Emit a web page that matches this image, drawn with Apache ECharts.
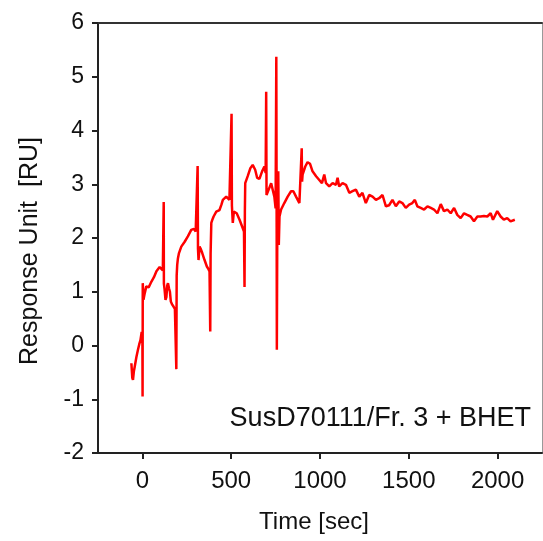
<!DOCTYPE html>
<html>
<head>
<meta charset="utf-8">
<script src="https://cdn.jsdelivr.net/npm/echarts@6/dist/echarts.min.js"></script>
<style>
html,body{margin:0;padding:0;background:#fff;}
#chart{width:543px;height:541px;}
</style>
</head>
<body>
<div id="chart"></div>
<script>
// Time [sec]
const times = [-62,-57,-53,-48,-43,-34,-25,-18,-11,-4,0,1,2,6,13,22,35,51,65,79,97,108,115,119,120,121,125,130,135,140,144,150,155,160,168,176,183,189,191,193,196,200,206,219,238,256,275,290,300,309,311,313,316,322,328,337,350,363,372,378,382,384,388,395,401,416,434,445,453,472,490,500,502,504,509,515,519,531,547,562,572,575,577,579,593,608,621,635,646,659,674,687,694,697,699,711,725,734,743,750,754,756,757,760,765,768,772,781,799,818,837,850,865,884,893,897,899,902,917,930,944,958,978,996,1011,1024,1034,1052,1071,1090,1099,1108,1127,1146,1165,1183,1202,1221,1239,1258,1277,1296,1315,1333,1352,1371,1389,1408,1427,1446,1464,1483,1502,1520,1534,1548,1567,1586,1605,1624,1642,1661,1680,1698,1717,1736,1755,1773,1792,1811,1829,1848,1867,1886,1904,1923,1942,1961,1974,1998,2017,2035,2054,2073,2082,2097];
// Response Unit [RU]
const response = [-0.33,-0.60,-0.64,-0.48,-0.39,-0.22,-0.08,0.02,0.10,0.25,0.20,-0.95,1.16,0.85,0.97,1.10,1.08,1.19,1.27,1.38,1.46,1.44,1.40,1.38,2.67,1.15,1.04,0.85,0.90,1.12,1.16,1.06,1.00,0.82,0.76,0.72,0.68,0.66,-0.44,1.30,1.50,1.62,1.72,1.84,1.93,2.03,2.15,2.17,2.12,2.09,3.34,1.80,1.59,1.84,1.80,1.72,1.59,1.47,1.42,1.38,0.26,1.70,2.28,2.35,2.40,2.49,2.52,2.62,2.71,2.77,2.71,2.72,4.31,2.60,2.28,2.49,2.49,2.46,2.34,2.21,2.12,1.09,2.50,3.02,3.15,3.30,3.36,3.27,3.12,3.10,3.24,3.33,3.21,4.72,2.80,2.90,3.02,3.05,2.77,2.55,5.37,2.20,-0.08,2.60,3.24,1.87,2.40,2.53,2.65,2.77,2.87,2.87,2.77,2.65,2.62,3.67,3.05,3.18,3.33,3.41,3.38,3.24,3.15,3.08,3.02,3.18,3.02,2.96,3.02,2.99,3.12,2.96,3.02,2.99,2.84,2.87,2.90,2.77,2.84,2.65,2.80,2.77,2.71,2.74,2.80,2.59,2.61,2.71,2.59,2.68,2.65,2.56,2.62,2.65,2.71,2.59,2.56,2.53,2.59,2.56,2.53,2.46,2.63,2.50,2.53,2.46,2.56,2.43,2.37,2.46,2.43,2.40,2.31,2.40,2.40,2.41,2.40,2.46,2.34,2.50,2.40,2.34,2.37,2.31,2.28,2.34];
const xTicks = [0, 500, 1000, 1500, 2000];
const yTicks = [-2, -1, 0, 1, 2, 3, 4, 5, 6];
const xTitle = 'Time [sec]';
const yTitle = 'Response Unit  [RU]';
const annotation = 'SusD70111/Fr. 3 + BHET';

const FONT = '"Liberation Sans", Arial, sans-serif';
const chart = echarts.init(document.getElementById('chart'), null, {renderer: 'canvas'});
const seriesData = times.map((t, i) => [t, response[i]]);

chart.setOption({
  animation: false,
  backgroundColor: '#ffffff',
  grid: {left: 98, right: 1, top: 23, bottom: 88, containLabel: false},
  xAxis: [{
    type: 'value', min: -250, max: 2250, position: 'bottom',
    name: xTitle, nameLocation: 'middle', nameGap: 57,
    nameTextStyle: {fontFamily: FONT, fontSize: 24, color: '#111', padding: [0, 12, 0, 0]},
    axisLine: {show: true, onZero: false, lineStyle: {color: '#222', width: 2}},
    axisTick: {show: true, inside: false, length: 6, lineStyle: {color: '#222', width: 2}, customValues: xTicks},
    axisLabel: {show: true, margin: 16, fontFamily: FONT, fontSize: 24, color: '#111', customValues: xTicks,
      formatter: v => String(v)},
    splitLine: {show: false}
  }, {
    type: 'value', min: -250, max: 2250, position: 'top',
    axisLine: {show: true, onZero: false, lineStyle: {color: '#333', width: 2}},
    axisTick: {show: false}, axisLabel: {show: false}, splitLine: {show: false}
  }],
  yAxis: [{
    type: 'value', min: -2, max: 6, interval: 1, position: 'left',
    axisLine: {show: true, onZero: false, lineStyle: {color: '#222', width: 2}},
    axisTick: {show: true, inside: false, length: 6, lineStyle: {color: '#222', width: 2}},
    axisLabel: {show: true, margin: 14, fontFamily: FONT, fontSize: 23, color: '#111', customValues: yTicks,
      formatter: v => String(v)},
    splitLine: {show: false}
  }, {
    type: 'value', min: -2, max: 6, interval: 1, position: 'right',
    axisLine: {show: true, onZero: false, lineStyle: {color: '#999', width: 1}},
    axisTick: {show: false}, axisLabel: {show: false}, splitLine: {show: false}
  }],
  graphic: [{
    type: 'text', x: 30, y: 251, rotation: Math.PI / 2,
    style: {text: yTitle, fontFamily: FONT, fontSize: 25, fill: '#111', align: 'center', verticalAlign: 'middle'}
  }, {
    type: 'text', x: 531, y: 419,
    style: {text: annotation, fontFamily: FONT, fontSize: 27, fill: '#111', align: 'right', verticalAlign: 'middle'}
  }],
  series: [{
    type: 'line', xAxisIndex: 0, yAxisIndex: 0,
    data: seriesData, showSymbol: false, symbol: 'none',
    lineStyle: {color: '#ff0000', width: 2.5}, smooth: false
  }]
});
</script>
</body>
</html>
